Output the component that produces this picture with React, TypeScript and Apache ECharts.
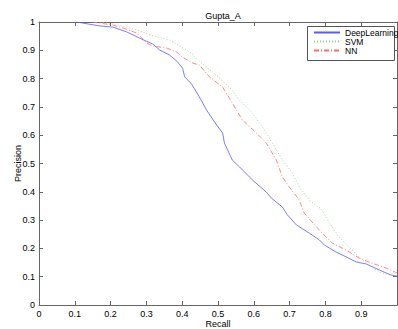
import React, { useEffect, useRef } from "react";
import * as echarts from "echarts";

const deepLearning: [number, number][] = [
  [0.105, 1.0], [0.17, 0.986], [0.206, 0.982], [0.245, 0.965], [0.281, 0.943],
  [0.318, 0.922], [0.337, 0.901], [0.365, 0.883], [0.387, 0.859], [0.401, 0.837],
  [0.407, 0.806], [0.426, 0.781], [0.448, 0.735], [0.468, 0.689], [0.496, 0.636],
  [0.513, 0.608], [0.518, 0.572], [0.54, 0.512], [0.56, 0.488], [0.596, 0.442],
  [0.635, 0.399], [0.649, 0.378], [0.68, 0.346], [0.694, 0.318], [0.719, 0.283],
  [0.755, 0.254], [0.783, 0.23], [0.797, 0.212], [0.83, 0.187], [0.858, 0.17],
  [0.886, 0.152], [0.914, 0.145], [0.95, 0.124], [0.983, 0.106], [1.0, 0.102],
];

const svm: [number, number][] = [
  [0.17, 1.0], [0.206, 0.993], [0.245, 0.982], [0.273, 0.972], [0.318, 0.951],
  [0.365, 0.936], [0.393, 0.915], [0.421, 0.894], [0.448, 0.862], [0.485, 0.823],
  [0.532, 0.77], [0.56, 0.724], [0.596, 0.678], [0.616, 0.643], [0.635, 0.608],
  [0.663, 0.548], [0.68, 0.512], [0.708, 0.466], [0.727, 0.417], [0.755, 0.371],
  [0.791, 0.336], [0.811, 0.29], [0.838, 0.24], [0.866, 0.205], [0.894, 0.17],
  [0.922, 0.141], [0.95, 0.117], [0.978, 0.106], [1.0, 0.102],
];

const nn: [number, number][] = [
  [0.15, 1.0], [0.206, 0.989], [0.234, 0.979], [0.273, 0.961], [0.301, 0.926],
  [0.318, 0.915], [0.357, 0.908], [0.384, 0.894], [0.401, 0.876], [0.429, 0.855],
  [0.448, 0.848], [0.476, 0.806], [0.513, 0.77], [0.54, 0.714], [0.568, 0.654],
  [0.607, 0.608], [0.635, 0.572], [0.663, 0.512], [0.68, 0.452], [0.699, 0.417],
  [0.727, 0.371], [0.741, 0.325], [0.763, 0.293], [0.791, 0.254], [0.819, 0.219],
  [0.858, 0.194], [0.894, 0.166], [0.93, 0.148], [0.969, 0.131], [1.0, 0.113],
];

const seriesNames = ["DeepLearning", "SVM", "NN"];
const titleText = "Gupta_A";
const xName = "Recall";
const yName = "Precision";

const FONT = "Liberation Sans, Arial, sans-serif";
const AXIS_COLOR = "#666";
const BLUE = "#5a5aff";
const GREEN = "#8fd08f";
const RED = "#ff6a6a";

export default function App() {
  const ref = useRef<HTMLDivElement>(null);
  useEffect(() => {
    if (!ref.current) return;
    const chart = echarts.init(ref.current, undefined, { renderer: "svg" });
    const fmt = (v: number) => String(+v.toFixed(1));
    const fmtX = (v: number) => (v >= 1 ? "" : String(+v.toFixed(1)));
    const baseAxis = {
      type: "value" as const,
      min: 0,
      max: 1,
      interval: 0.1,
      splitLine: { show: false },
      axisLine: { show: true, onZero: false, lineStyle: { color: AXIS_COLOR, width: 1 } },
      axisTick: { show: true, inside: true, length: 4, lineStyle: { color: AXIS_COLOR } },
    };
    chart.setOption({
      animation: false,
      backgroundColor: "#fff",
      textStyle: { fontFamily: FONT },
      title: {
        text: titleText,
        left: 218,
        top: 6,
        textAlign: "center",
        textStyle: { fontSize: 9, fontWeight: "normal", color: "#000", fontFamily: FONT },
      },
      grid: { left: 39, right: 1, top: 22, bottom: 24, outerBoundsMode: "none", containLabel: false },
      graphic: [
        {
          type: "rect",
          left: 307,
          top: 26,
          shape: { width: 87, height: 34 },
          style: { fill: "#fff", stroke: "#555", lineWidth: 1 },
          z: 10,
        },
      ],
      legend: {
        data: seriesNames,
        orient: "vertical",
        left: 313,
        top: 28,
        itemWidth: 26,
        itemHeight: 10,
        itemGap: 0,
        padding: 0,
        z: 20,
        itemStyle: { opacity: 0 },
        textStyle: { fontSize: 8.5, color: "#000", fontFamily: FONT, padding: [0, 0, 0, 0] },
      },
      xAxis: [
        {
          ...baseAxis,
          position: "bottom",
          name: xName,
          nameLocation: "middle",
          nameGap: 14,
          nameMoveOverlap: false,
          nameTextStyle: { fontSize: 9, color: "#000", fontFamily: FONT },
          axisLabel: { fontSize: 9, color: "#000", margin: 4, formatter: fmtX, fontFamily: FONT },
        },
        {
          ...baseAxis,
          position: "top",
          axisLabel: { show: false },
        },
      ],
      yAxis: [
        {
          ...baseAxis,
          position: "left",
          name: yName,
          nameLocation: "middle",
          nameGap: 17,
          nameMoveOverlap: false,
          nameTextStyle: { fontSize: 9, color: "#000", fontFamily: FONT },
          axisLabel: { fontSize: 9, color: "#000", margin: 4, formatter: fmt, fontFamily: FONT },
        },
        {
          ...baseAxis,
          position: "right",
          axisLabel: { show: false },
        },
      ],
      series: [
        {
          name: seriesNames[0],
          type: "line",
          data: deepLearning,
          symbol: "none",
          lineStyle: { color: BLUE, width: 0.8, type: "solid" },
          itemStyle: { color: BLUE },
        },
        {
          name: seriesNames[1],
          type: "line",
          data: svm,
          symbol: "none",
          lineStyle: { color: GREEN, width: 0.8, type: [1, 2] },
          itemStyle: { color: GREEN },
        },
        {
          name: seriesNames[2],
          type: "line",
          data: nn,
          symbol: "none",
          lineStyle: { color: RED, width: 0.8, type: [5, 2, 1, 2] },
          itemStyle: { color: RED },
        },
      ],
    });
    return () => chart.dispose();
  }, []);
  return <div ref={ref} style={{ width: 398, height: 329, position: "absolute", left: 0, top: 0 }} />;
}
